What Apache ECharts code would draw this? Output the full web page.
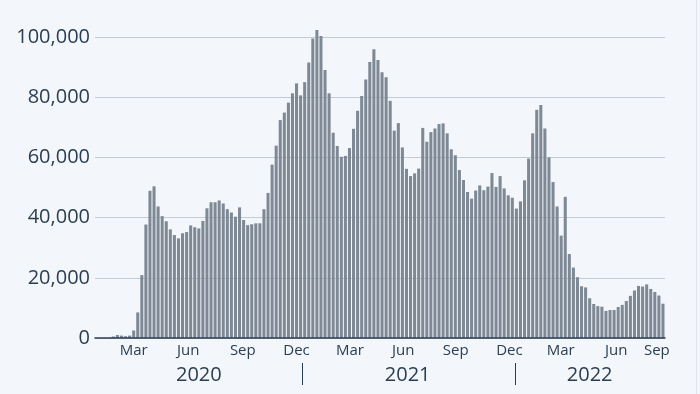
<!DOCTYPE html>
<html>
<head>
<meta charset="utf-8">
<script src="https://cdn.jsdelivr.net/npm/echarts@6/dist/echarts.min.js"></script>
<style>
html,body{margin:0;padding:0;background:#f3f7fb;}
#chart{width:700px;height:394px;}
</style>
</head>
<body>
<div id="chart"></div>
<script>
// Weekly values, first week of Jan 2020 through Sep 2022
const weeklyValues = [
  0, 0, 0, 0, 500, 1000, 800, 600, 800, 2500,
  8500, 20900, 37700, 48900, 50400, 43700, 40500, 38800, 36100, 34200,
  33100, 34800, 35200, 37400, 36800, 36400, 38900, 43100, 45100, 45100,
  45700, 44700, 42800, 41700, 40300, 43400, 39200, 37500, 37800, 38100,
  38100, 42800, 48200, 57600, 63900, 72400, 74900, 78200, 81300, 84600,
  80600, 85000, 91500, 99500, 102300, 100300, 89000, 81300, 68200, 63800,
  60200, 60500, 63100, 69500, 75500, 80400, 85900, 91700, 95900, 92400,
  88300, 86600, 78800, 68900, 71400, 63300, 56200, 53800, 54700, 56300,
  69800, 65200, 68400, 69600, 71100, 71300, 68000, 62700, 60700, 55800,
  52500, 48500, 46300, 49000, 50700, 49100, 50300, 54800, 50200, 53800,
  49700, 47400, 46600, 43000, 45400, 52400, 59600, 68000, 75800, 77400,
  69600, 60000, 51800, 43700, 34000, 46900, 27900, 23400, 20200, 17200,
  16800, 13200, 11300, 10600, 10400, 9000, 9300, 9300, 10300, 11000,
  12300, 14000, 15800, 17300, 17100, 17800, 16300, 15300, 14100, 11400
];

// Week categories (one per bar)
const startDate = new Date(Date.UTC(2020, 0, 1));
const weekCategories = weeklyValues.map((_, i) => {
  const d = new Date(startDate.getTime() + i * 7 * 86400000);
  return d.toISOString().slice(0, 10);
});

// Tick labels (positions expressed in bar-index units)
const monthLabels = ['Mar','Jun','Sep','Dec','Mar','Jun','Sep','Dec','Mar','Jun','Sep'];
const monthPositions = [9.0, 22.4, 35.8, 49.0, 62.1, 75.2, 88.1, 101.3, 113.9, 127.5, 137.5];
const yearLabels = ['2020','2021','2022'];
const yearPositions = [25.0, 76.3, 121.0];
const yearBreaks = [50.5, 102.6];

const textColor = '#2b3d50';
const fontFamily = '"Open Sans", "DejaVu Sans", sans-serif';

const chart = echarts.init(document.getElementById('chart'), null, {renderer: 'canvas'});
const n = weeklyValues.length;

chart.setOption({
  animation: false,
  backgroundColor: '#f3f7fb',
  grid: {left: 95, right: 35, top: 37, bottom: 56, containLabel: false},
  xAxis: [
    {
      type: 'category',
      data: weekCategories,
      position: 'bottom',
      axisLine: {show: true, lineStyle: {color: textColor, width: 1.5}},
      axisTick: {show: false},
      axisLabel: {show: false},
      splitLine: {show: false},
      z: 5
    },
    {
      type: 'value',
      min: -0.5,
      max: n - 0.5,
      position: 'bottom',
      axisLine: {show: false},
      axisTick: {show: false},
      splitLine: {show: false},
      axisLabel: {
        customValues: monthPositions,
        formatter: v => {
          const k = monthPositions.indexOf(v);
          return k >= 0 ? monthLabels[k] : '';
        },
        fontSize: 15,
        color: textColor,
        fontFamily: fontFamily,
        margin: 5
      }
    },
    {
      type: 'value',
      min: -0.5,
      max: n - 0.5,
      position: 'bottom',
      offset: 25,
      axisLine: {show: false},
      axisTick: {show: true, customValues: yearBreaks, length: 22, lineStyle: {color: textColor, width: 1}},
      splitLine: {show: false},
      axisLabel: {
        customValues: yearPositions,
        formatter: v => {
          const k = yearPositions.indexOf(v);
          return k >= 0 ? yearLabels[k] : '';
        },
        fontSize: 20,
        color: textColor,
        fontFamily: fontFamily,
        margin: 2
      }
    }
  ],
  yAxis: {
    type: 'value',
    min: 0,
    max: 100000,
    interval: 20000,
    axisLine: {show: false},
    axisTick: {show: false},
    axisLabel: {
      formatter: v => v.toLocaleString('en-US'),
      fontSize: 20,
      color: textColor,
      fontFamily: fontFamily,
      margin: 5
    },
    splitLine: {lineStyle: {color: '#c4cbd3', width: 1}}
  },
  series: [{
    type: 'bar',
    data: weeklyValues,
    xAxisIndex: 0,
    yAxisIndex: 0,
    barCategoryGap: '25%',
    clip: false,
    silent: true,
    itemStyle: {color: '#7f8995'}
  }],
  graphic: [{
    type: 'line',
    shape: {x1: 696.5, y1: 0, x2: 696.5, y2: 394},
    style: {stroke: '#e0e6ec', lineWidth: 1},
    silent: true
  }]
});
</script>
</body>
</html>
